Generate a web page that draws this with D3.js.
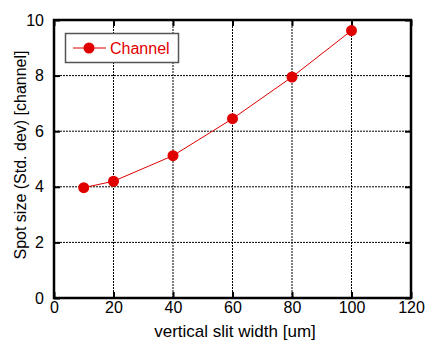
<!DOCTYPE html>
<html>
<head>
<meta charset="utf-8">
<script src="https://cdn.jsdelivr.net/npm/d3@7"></script>
<style>
  body { margin: 0; background: #fff; }
  text { font-family: "Liberation Sans", Arial, sans-serif; }
</style>
</head>
<body>
<div id="chart-area"></div>
<script>
var width = 426,
    height = 340;

// data
var slitWidth = [10, 20, 40, 60, 80, 100];
var spotSize = [3.97, 4.2, 5.12, 6.45, 7.95, 9.62];
var xTicks = [0, 20, 40, 60, 80, 100, 120];
var yTicks = [0, 2, 4, 6, 8, 10];
var seriesName = "Channel";

var margin = {left: 54, right: 15, top: 20, bottom: 42};

var svg = d3.select("#chart-area").append("svg")
    .attr("width", width)
    .attr("height", height);

var x = d3.scaleLinear().domain([0, 120]).range([margin.left, width - margin.right]);
var y = d3.scaleLinear().domain([0, 10]).range([height - margin.bottom, margin.top]);

var red = "#e00000";

// grid
svg.append("g").selectAll("line")
  .data(xTicks.slice(1, -1))
  .enter().append("line")
  .attr("x1", d => x(d)).attr("x2", d => x(d))
  .attr("y1", y(0)).attr("y2", y(10))
  .style("stroke", "#000").style("stroke-width", 1)
  .style("stroke-dasharray", "2,1");

svg.append("g").selectAll("line")
  .data(yTicks.slice(1, -1))
  .enter().append("line")
  .attr("x1", x(0)).attr("x2", x(120))
  .attr("y1", d => y(d)).attr("y2", d => y(d))
  .style("stroke", "#000").style("stroke-width", 1)
  .style("stroke-dasharray", "2,1");

// axes, ticks inward
var xAxis = svg.append("g")
  .attr("transform", "translate(0," + y(0) + ")")
  .call(d3.axisBottom(x).tickValues(xTicks).tickSize(-6).tickPadding(4));
var xTop = svg.append("g")
  .attr("transform", "translate(0," + y(10) + ")")
  .call(d3.axisTop(x).tickValues(xTicks).tickSize(-6).tickFormat(""));
var yAxis = svg.append("g")
  .attr("transform", "translate(" + x(0) + ",0)")
  .call(d3.axisLeft(y).tickValues(yTicks).tickSize(-6).tickPadding(10));
var yRight = svg.append("g")
  .attr("transform", "translate(" + x(120) + ",0)")
  .call(d3.axisRight(y).tickValues(yTicks).tickSize(-6).tickFormat(""));

[xAxis, xTop, yAxis, yRight].forEach(function(g) {
  g.select(".domain").remove();
  g.selectAll("line").style("stroke", "#000").style("stroke-width", 2);
  g.selectAll("text").style("font-size", "16px").style("fill", "#000")
    .style("font-family", "'Liberation Sans', Arial, sans-serif");
});

// frame
svg.append("rect")
  .attr("x", x(0)).attr("y", y(10))
  .attr("width", x(120) - x(0)).attr("height", y(0) - y(10))
  .style("fill", "none").style("stroke", "#000").style("stroke-width", 2.5);

// series
var pts = slitWidth.map((d, i) => ({x: d, y: spotSize[i]}));

svg.append("path")
  .datum(pts)
  .attr("d", d3.line().x(d => x(d.x)).y(d => y(d.y)))
  .style("fill", "none").style("stroke", red).style("stroke-width", 1);

svg.selectAll(".pt")
  .data(pts)
  .enter().append("circle")
  .attr("class", "pt")
  .attr("cx", d => x(d.x)).attr("cy", d => y(d.y))
  .attr("r", 5.5)
  .style("fill", red);

// legend
var lg = svg.append("g");
lg.append("rect")
  .attr("x", 65.5).attr("y", 33.5).attr("width", 113).attr("height", 29)
  .style("fill", "#fff").style("stroke", "#555").style("stroke-width", 1.5);
lg.append("line")
  .attr("x1", 73).attr("x2", 106).attr("y1", 48).attr("y2", 48)
  .style("stroke", red).style("stroke-width", 1);
lg.append("circle").attr("cx", 89).attr("cy", 48).attr("r", 5.5).style("fill", red);
lg.append("text").attr("x", 110).attr("y", 54)
  .style("font-size", "16px").style("fill", red).text(seriesName);

// axis titles
svg.append("text")
  .attr("x", 235).attr("y", 337)
  .attr("text-anchor", "middle").style("font-size", "17px")
  .text("vertical slit width [um]");

svg.append("text")
  .attr("transform", "translate(26,155) rotate(-90)")
  .attr("text-anchor", "middle").style("font-size", "16px")
  .text("Spot size (Std. dev) [channel]");
</script>
</body>
</html>
